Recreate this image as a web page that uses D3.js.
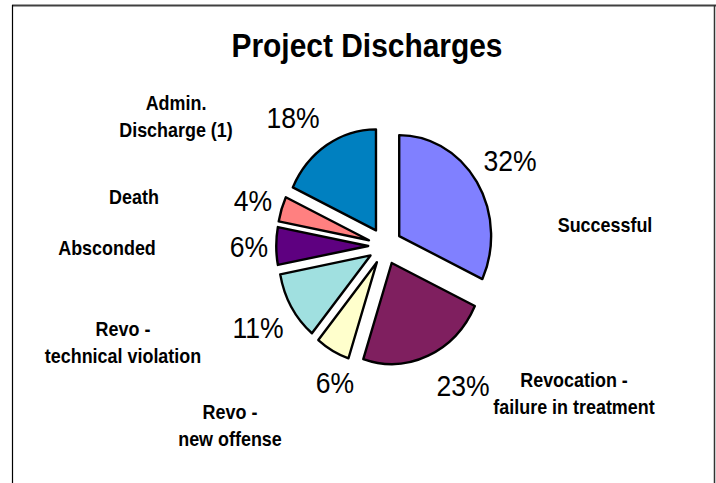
<!DOCTYPE html>
<html>
<head>
<meta charset="utf-8">
<script src="https://cdn.jsdelivr.net/npm/d3@7/dist/d3.min.js"></script>
<style>
  html, body { margin: 0; padding: 0; background: #fff; }
  svg { display: block; }
  text { font-family: "Liberation Sans", Arial, sans-serif; fill: #000; }
</style>
</head>
<body>
<svg id="chart" width="716" height="483"></svg>
<script>
// ---- data ----
const categories = ["Successful", "Revocation - failure in treatment", "Revo - new offense",
                    "Revo - technical violation", "Absconded", "Death", "Admin. Discharge (1)"];
const labelLines = [["Successful"], ["Revocation -", "failure in treatment"], ["Revo -", "new offense"],
                    ["Revo -", "technical violation"], ["Absconded"], ["Death"], ["Admin.", "Discharge (1)"]];
const values = [32, 23, 6, 11, 6, 4, 18];
const colors = ["#8080FF", "#7F1F5F", "#FFFFCC", "#A0E0E0", "#5E0080", "#FF8080", "#0080C0"];
const title = "Project Discharges";

// ---- layout (style/positions) ----
const W = 716, H = 483;
const cx = 385, cy = 246, R = 101, SX = 0.91, EXPLODE = 18.5;
// label anchor points (centre x, baseline y of first line)
const pctPos = [[510, 171], [463, 396], [335, 393], [258, 338], [249, 257], [253, 211], [293, 128]];
const catPos = [[605, 232], [574, 387], [230, 419], [123, 336], [107, 255], [134, 204], [176, 110]];

const svg = d3.select("#chart");

// frame
svg.append("line").attr("x1", 12).attr("x2", 716).attr("y1", 5.5).attr("y2", 5.5)
  .attr("stroke", "#404040").attr("stroke-width", 2);
svg.append("line").attr("x1", 12.5).attr("x2", 12.5).attr("y1", 5).attr("y2", H)
  .attr("stroke", "#000").attr("stroke-width", 1.2);
svg.append("line").attr("x1", 714.5).attr("x2", 714.5).attr("y1", 5).attr("y2", H)
  .attr("stroke", "#333").attr("stroke-width", 1.5);

// title
svg.append("text")
  .attr("transform", `translate(367,57) scale(0.88,1)`)
  .attr("text-anchor", "middle")
  .attr("font-size", 34).attr("font-weight", "bold")
  .text(title);

// pie
const pie = d3.pie().sort(null).startAngle(0).endAngle(2 * Math.PI).value(d => d);
const arcs = pie(values);
const arc = d3.arc().innerRadius(0).outerRadius(R);

const g = svg.append("g").attr("transform", `translate(${cx},${cy}) scale(${SX},1)`);
g.selectAll("path").data(arcs).enter().append("path")
  .attr("d", arc)
  .attr("transform", d => {
    const a = (d.startAngle + d.endAngle) / 2;
    return `translate(${EXPLODE * Math.sin(a)},${-EXPLODE * Math.cos(a)})`;
  })
  .attr("fill", (d, i) => colors[i])
  .attr("stroke", "#000")
  .attr("stroke-width", 2.4)
  .attr("stroke-linejoin", "round")
  .attr("vector-effect", "non-scaling-stroke");

// percentage labels
const fmt = d3.format(".0%");
const total = d3.sum(values);
svg.selectAll("text.pct").data(values).enter().append("text")
  .attr("class", "pct")
  .attr("transform", (d, i) => `translate(${pctPos[i][0]},${pctPos[i][1]}) scale(0.9,1)`)
  .attr("text-anchor", "middle")
  .attr("font-size", 29.5)
  .text(d => fmt(d / total));

// category labels
labelLines.forEach((lines, i) => {
  const t = svg.append("text")
    .attr("class", "cat")
    .attr("transform", `translate(${catPos[i][0]},${catPos[i][1]}) scale(0.92,1)`)
    .attr("text-anchor", "middle")
    .attr("font-size", 19.5).attr("font-weight", "bold");
  lines.forEach((ln, j) => {
    t.append("tspan").attr("x", 0).attr("dy", j === 0 ? 0 : 27).text(ln);
  });
});
</script>
</body>
</html>
